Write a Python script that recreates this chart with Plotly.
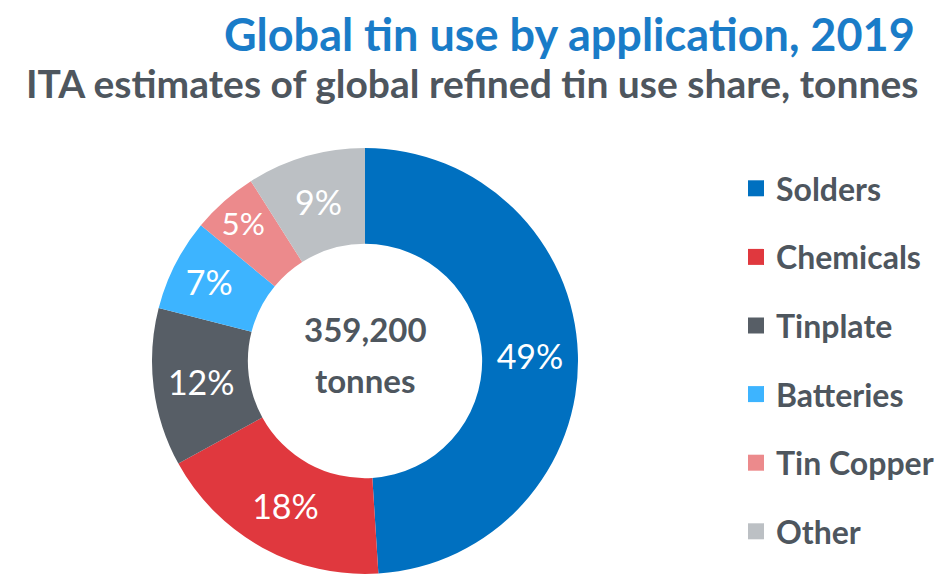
import plotly.graph_objects as go

labels = ["Solders", "Chemicals", "Tinplate", "Batteries", "Tin Copper", "Other"]
shares = [49, 18, 12, 7, 5, 9]
colors = ["#0070C0", "#E0383E", "#575E66", "#3DB4FF", "#EC8A8C", "#BCC0C4"]
center_lines = ["359,200", "tonnes"]
title_text = "Global tin use by application, 2019"
subtitle_text = "ITA estimates of global refined tin use share, tonnes"

W, H = 942, 574
FONT = "Lato, 'Open Sans', sans-serif"
GREY = "#4E565E"

fig = go.Figure()
fig.add_trace(go.Pie(
    labels=labels, values=shares, sort=False, direction="clockwise", rotation=0,
    hole=0.55, marker=dict(colors=colors, line=dict(width=0)),
    textinfo="percent", textposition="inside", insidetextorientation="horizontal",
    textfont=dict(family=FONT, size=34, color="white"),
    domain=dict(x=[144 / W, 570 / W], y=[8 / H, 434 / H]),
    showlegend=False, hoverinfo="label+percent",
))

# legend entries (one group per category for even spacing)
for lab, col in zip(labels, colors):
    fig.add_trace(go.Scatter(
        x=[None], y=[None], mode="markers", name="<b>" + lab + "</b>", legendgroup=lab,
        marker=dict(symbol="square", size=16, color=col), showlegend=True,
    ))

fig.add_annotation(x=357 / W, y=(H - 321) / H, xref="paper", yref="paper",
                   text="<b>" + center_lines[0] + "</b>", showarrow=False,
                   font=dict(family=FONT, size=33, color=GREY))
fig.add_annotation(x=357 / W, y=(H - 372) / H, xref="paper", yref="paper",
                   text="<b>" + center_lines[1] + "</b>", showarrow=False,
                   font=dict(family=FONT, size=33, color=GREY))
fig.add_annotation(x=912 / W, y=(H - 75) / H, xref="paper", yref="paper",
                   xanchor="right", yanchor="middle",
                   text="<b>" + subtitle_text + "</b>", showarrow=False,
                   font=dict(family=FONT, size=39, color=GREY))
fig.add_annotation(x=909 / W, y=(H - 26) / H, xref="paper", yref="paper",
                   xanchor="right", yanchor="middle",
                   text="<b>" + title_text + "</b>", showarrow=False,
                   font=dict(family=FONT, size=45, color="#1A7CC8"))

fig.update_layout(
    width=W, height=H, margin=dict(l=0, r=0, t=0, b=0),
    paper_bgcolor="white", plot_bgcolor="white",
    xaxis=dict(visible=False), yaxis=dict(visible=False),
    legend=dict(x=728 / W, xanchor="left", y=(H - 153) / H, yanchor="top",
                font=dict(family=FONT, size=32, color=GREY),
                tracegroupgap=24, itemclick=False, bgcolor="rgba(0,0,0,0)"),
)

fig.write_html("out.html")
